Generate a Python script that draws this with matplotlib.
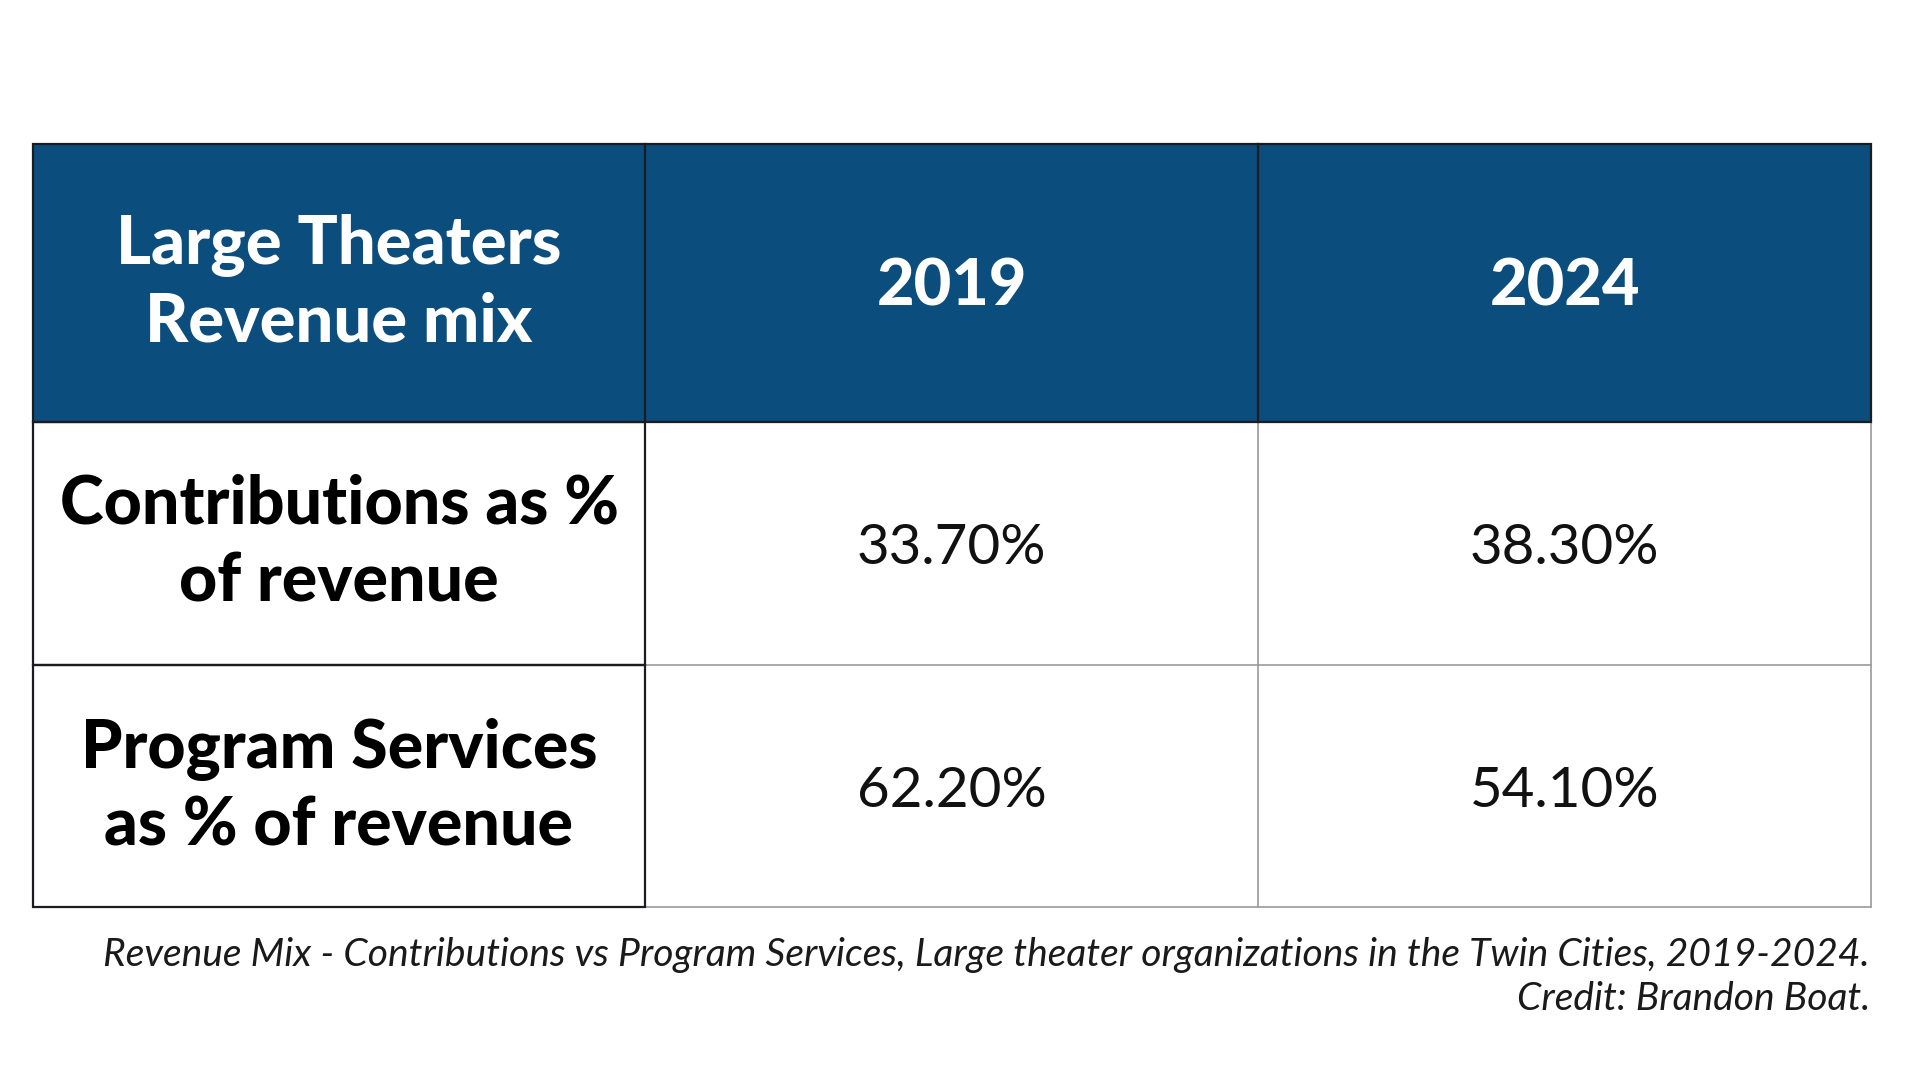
import matplotlib
matplotlib.use("Agg")
import matplotlib.pyplot as plt
from matplotlib import font_manager as fm
from matplotlib.patches import Rectangle

# ---- data ----
header_title = ["Large Theaters", "Revenue mix"]
years = ["2019", "2024"]
row_labels = [["Contributions as %", "of revenue"], ["Program Services", "as % of revenue"]]
values_2019 = ["33.70%", "62.20%"]
values_2024 = ["38.30%", "54.10%"]
caption = ["Revenue Mix - Contributions vs Program Services, Large theater organizations in the Twin Cities, 2019-2024.",
           "Credit: Brandon Boat."]

names = {f.name for f in fm.fontManager.ttflist}
fam = "Lato" if "Lato" in names else "DejaVu Sans"
heavy = dict(family=fam, weight=900)
light = dict(family=fam, weight=400)
ital = dict(family=fam, style="italic")

W, H = 1920, 1080
fig = plt.figure(figsize=(W / 100, H / 100), dpi=100)
ax = fig.add_axes([0, 0, 1, 1])
ax.set_xlim(0, W)
ax.set_ylim(H, 0)
ax.axis("off")

blue = "#0b4d7c"
dark = "#1b1b22"
grey = "#9a9a9a"

xs = [33, 645, 1258, 1871]
ys = [144, 422, 665, 907]

# header background
ax.add_patch(Rectangle((xs[0], ys[0]), xs[3] - xs[0], ys[1] - ys[0], facecolor=blue, edgecolor="none", zorder=1))
# grey inner grid for data cells
for y in ys[1:]:
    ax.plot([xs[1], xs[3]], [y, y], color=grey, lw=1.2, zorder=2)
ax.plot([xs[2], xs[2]], [ys[1], ys[3]], color=grey, lw=1.2, zorder=2)
ax.plot([xs[3], xs[3]], [ys[1], ys[3]], color=grey, lw=1.2, zorder=2)
# dark borders: header and first column
ax.add_patch(Rectangle((xs[0], ys[0]), xs[3] - xs[0], ys[1] - ys[0], facecolor="none", edgecolor=dark, lw=1.6, zorder=3))
ax.plot([xs[1], xs[1]], [ys[0], ys[1]], color=dark, lw=1.6, zorder=3)
ax.plot([xs[2], xs[2]], [ys[0], ys[1]], color=dark, lw=1.6, zorder=3)
for i in range(2):
    ax.add_patch(Rectangle((xs[0], ys[i + 1]), xs[1] - xs[0], ys[i + 2] - ys[i + 1], facecolor="none", edgecolor=dark, lw=1.6, zorder=3))

fig.canvas.draw()
renderer = fig.canvas.get_renderer()


def fit(t, target):
    t.set_fontsize(40)
    bb = t.get_window_extent(renderer)
    t.set_fontsize(40 * target / bb.width)
    return t


cx0 = (xs[0] + xs[1]) / 2
cx1 = (xs[1] + xs[2]) / 2
cx2 = (xs[2] + xs[3]) / 2

# header
h1 = ax.text(cx0, 264, header_title[0], color="white", ha="center", va="baseline", **heavy)
fit(h1, 446)
hfs = h1.get_fontsize()
ax.text(cx0, 341, header_title[1], color="white", ha="center", va="baseline", fontsize=hfs, **heavy)
for cx, yr in zip([cx1, cx2], years):
    ax.text(cx, 305, yr, color="white", ha="center", va="baseline", fontsize=hfs * 0.97, **heavy)

# row labels
label_base = [[524, 601], [768, 845]]
t0 = ax.text(cx0, label_base[0][0], row_labels[0][0], color="black", ha="center", va="baseline", **heavy)
fit(t0, 558)
lfs = t0.get_fontsize()
for r in range(2):
    for k in range(2):
        if r == 0 and k == 0:
            continue
        ax.text(cx0, label_base[r][k], row_labels[r][k], color="black", ha="center", va="baseline", fontsize=lfs, **heavy)

# values
val_base = [564, 807]
v0 = ax.text(cx1, val_base[0], values_2019[0], color="#111111", ha="center", va="baseline", **light)
fit(v0, 190)
vfs = v0.get_fontsize()
for r in range(2):
    if r > 0:
        ax.text(cx1, val_base[r], values_2019[r], color="#111111", ha="center", va="baseline", fontsize=vfs, **light)
    ax.text(cx2, val_base[r], values_2024[r], color="#111111", ha="center", va="baseline", fontsize=vfs, **light)

# caption
c0 = ax.text(1870, 966, caption[0], color="#1a1a1a", ha="right", va="baseline", **ital)
fit(c0, 1767)
ax.text(1870, 1010, caption[1], color="#1a1a1a", ha="right", va="baseline", fontsize=c0.get_fontsize(), **ital)

fig.savefig("out.png", dpi=100, facecolor="white")
